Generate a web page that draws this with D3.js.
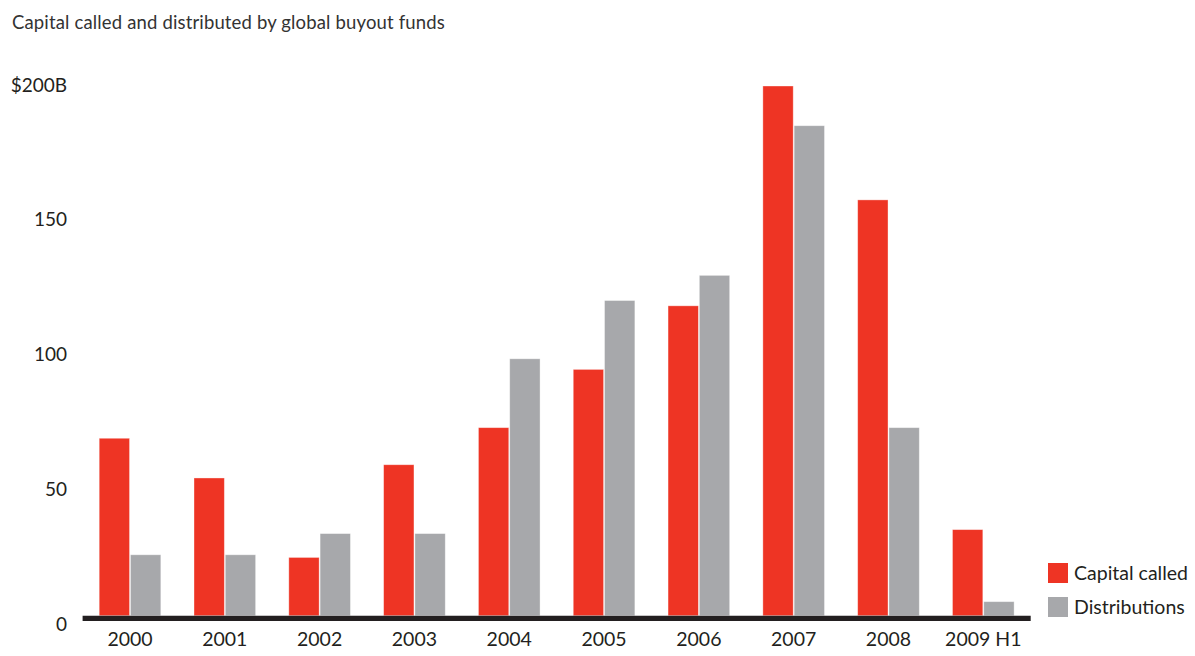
<!DOCTYPE html>
<html>
<head>
<meta charset="utf-8">
<script src="https://cdn.jsdelivr.net/npm/d3@7"></script>
<style>
  html, body { margin: 0; padding: 0; background: #fff; }
  svg text { font-family: Lato, "Open Sans", sans-serif; fill: #231f20; }
</style>
</head>
<body>
<svg id="chart"></svg>
<script>
const years = ['2000', '2001', '2002', '2003', '2004', '2005', '2006', '2007', '2008', '2009 H1'];
const capitalCalled = [67, 52, 22, 57, 71, 93, 117, 200, 157, 32.5];
const distributions = [23, 23, 31, 31, 97, 119, 128.5, 185, 71, 5.3];
const yTicks = [0, 50, 100, 150, 200];
const seriesNames = ['Capital called', 'Distributions'];
const colors = ['#ee3424', '#a7a8ab'];

const svg = d3.select('#chart')
  .attr('width', 1195)
  .attr('height', 656);

const x = d3.scaleBand().domain(years).range([82.6, 1030.7]).paddingInner(0.35).paddingOuter(0.175);
const sub = d3.scaleBand().domain([0, 1]).range([0, x.bandwidth()]).paddingInner(0.03);
const y = d3.scaleLinear().domain([0, 200]).range([615.7, 86]);
// tick labels sit a little off the bar scale in the original
const yLabel = d3.scaleLinear().domain([0, 200]).range([624, 85]);

svg.append('text')
  .attr('x', 12)
  .attr('y', 29)
  .style('font-size', '18.5px')
  .style('letter-spacing', '0.15px')
  .style('fill', '#333')
  .text('Capital called and distributed by global buyout funds');

const gy = svg.append('g')
  .attr('transform', 'translate(67,0)')
  .call(d3.axisLeft(yLabel).tickValues(yTicks).tickSize(0).tickPadding(0)
    .tickFormat(d => d === 200 ? '$200B' : d));
gy.select('.domain').remove();
gy.selectAll('text')
  .style('font-size', '19px')
  .style('font-family', 'Lato, sans-serif')
  .attr('fill', '#231f20');

const rows = years.map((yr, i) => ({ yr, vals: [capitalCalled[i], distributions[i]] }));

const groups = svg.append('g').selectAll('g')
  .data(rows)
  .join('g')
  .attr('transform', d => `translate(${x(d.yr)},0)`);

groups.selectAll('rect')
  .data(d => d.vals.map((v, k) => ({ v, k })))
  .join('rect')
  .attr('x', d => sub(d.k))
  .attr('y', d => y(d.v))
  .attr('width', sub.bandwidth())
  .attr('height', d => y(0) - y(d.v))
  .attr('fill', d => colors[d.k])
  .attr('stroke', 'rgba(255,255,255,0.45)')
  .attr('stroke-width', 0.8);

// thick baseline
svg.append('line')
  .attr('x1', x.range()[0])
  .attr('x2', x.range()[1])
  .attr('y1', y(0) + 2.6)
  .attr('y2', y(0) + 2.6)
  .attr('stroke', '#231f20')
  .attr('stroke-width', 5.2);

const gx = svg.append('g')
  .attr('transform', 'translate(0,632)')
  .call(d3.axisBottom(x).tickSize(0).tickPadding(0));
gx.select('.domain').remove();
gx.selectAll('text')
  .attr('dy', '0.72em')
  .style('font-size', '19.5px')
  .style('font-family', 'Lato, sans-serif')
  .attr('fill', '#231f20');

const legend = svg.append('g').selectAll('g')
  .data(seriesNames)
  .join('g')
  .attr('transform', (d, i) => `translate(1048,${563 + i * 34})`);
legend.append('rect')
  .attr('width', 20)
  .attr('height', 20)
  .attr('fill', (d, i) => colors[i]);
legend.append('text')
  .attr('x', 26)
  .attr('y', 10)
  .attr('dy', '0.35em')
  .style('font-size', '19.5px')
  .text(d => d);
</script>
</body>
</html>
